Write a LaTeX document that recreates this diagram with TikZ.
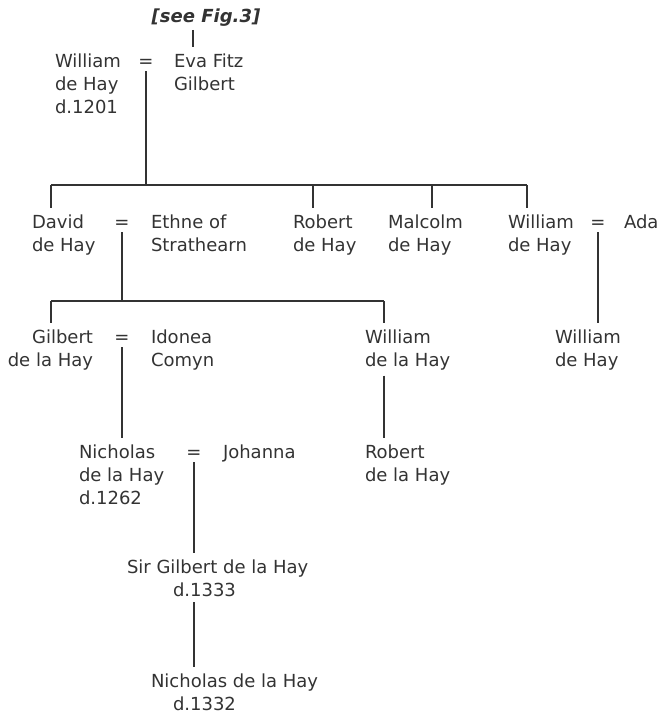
\documentclass[tikz,border=0pt]{standalone}
\usepackage{fontspec}
\setmainfont{DejaVu Sans}
\usepackage{xcolor}

\definecolor{ink}{HTML}{333333}

% a person node sits on the baseline of its last line
\tikzset{
  person/.style={inner sep=0pt, outer sep=4.5pt, xshift=-4.5pt, align=left, anchor=base west},
  wed/.style={inner sep=0pt, outer sep=3pt, anchor=base},
  seefig/.style={inner sep=0pt, outer sep=3pt, anchor=base, font=\fontsize{13.5}{17.25}\selectfont\bfseries\itshape},
  descent/.style={draw=ink, line width=1.5pt}
}

\begin{document}
\begin{tikzpicture}[x=0.75pt, y=-0.75pt, font=\fontsize{13.5}{17.25}\selectfont, color=ink]
  \useasboundingbox (0,0) rectangle (661,714);

  % first couple
  \node[seefig] (see) at (206,22) {[see Fig.3]};
  \node[person] (william) at (55,113) {William\\de Hay\\d.1201};
  \node[wed] (eqA) at (146,67) {=};
  \node[person] (eva) at (174,90) {Eva Fitz\\Gilbert};
  \coordinate (fig) at (193,0);
  \draw[descent] (see.south -| fig) -- (eva.north -| fig);

  % their children
  \node[person] (david) at (32,251) {David\\de Hay};
  \node[wed] (eqB) at (122,228) {=};
  \node[person] (ethne) at (151,251) {Ethne of\\Strathearn};
  \node[person] (robert) at (293,251) {Robert\\de Hay};
  \node[person] (malcolm) at (388,251) {Malcolm\\de Hay};
  \node[person] (williamb) at (508,251) {William\\de Hay};
  \node[wed] (eqC) at (598,228) {=};
  \node[person] (ada) at (624,228) {Ada};

  \draw[descent] (eqA) -- (eqA |- 0,185);
  \foreach \n/\x in {david/51, robert/313, malcolm/432, williamb/527} {
    \coordinate (\n-up) at (\x,185);
    \draw[descent] (\n-up) -- (\n-up |- \n.north);
  }
  \draw[descent] (david-up) -- (williamb-up);

  % grandchildren
  \node[person, anchor=base east, align=right, xshift=9pt] (gilbert) at (93,366) {Gilbert\\de la Hay};
  \node[wed] (eqD) at (122,343) {=};
  \node[person] (idonea) at (151,366) {Idonea\\Comyn};
  \node[person] (williamc) at (365,366) {William\\de la Hay};
  \node[person] (williamd) at (555,366) {William\\de Hay};

  \draw[descent] (eqB) -- (eqB |- 0,301);
  \foreach \n/\x in {gilbert/51, williamc/384} {
    \coordinate (\n-up) at (\x,301);
    \draw[descent] (\n-up) -- (\n-up |- \n.north);
  }
  \draw[descent] (gilbert-up) -- (williamc-up);
  \draw[descent] (eqC) -- (eqC |- williamd.north);

  % next generation
  \node[person] (nicholas) at (79,504) {Nicholas\\de la Hay\\d.1262};
  \node[wed] (eqE) at (194,458) {=};
  \node[person] (johanna) at (223,458) {Johanna};
  \node[person] (robertb) at (365,481) {Robert\\de la Hay};

  \draw[descent] (eqD) -- (eqD |- nicholas.north);
  \draw[descent] (williamc.south -| williamc-up) -- (williamc-up |- robertb.north);

  \node[person] (sirgilbert) at (127,596) {Sir Gilbert de la Hay\\\hspace*{34.5pt}d.1333};
  \node[person] (nicholasb) at (151,710) {Nicholas de la Hay\\\hspace*{16.5pt}d.1332};

  \draw[descent] (eqE) -- (eqE |- sirgilbert.north);
  \draw[descent] (sirgilbert.south -| eqE) -- (eqE |- nicholasb.north);
\end{tikzpicture}
\end{document}
